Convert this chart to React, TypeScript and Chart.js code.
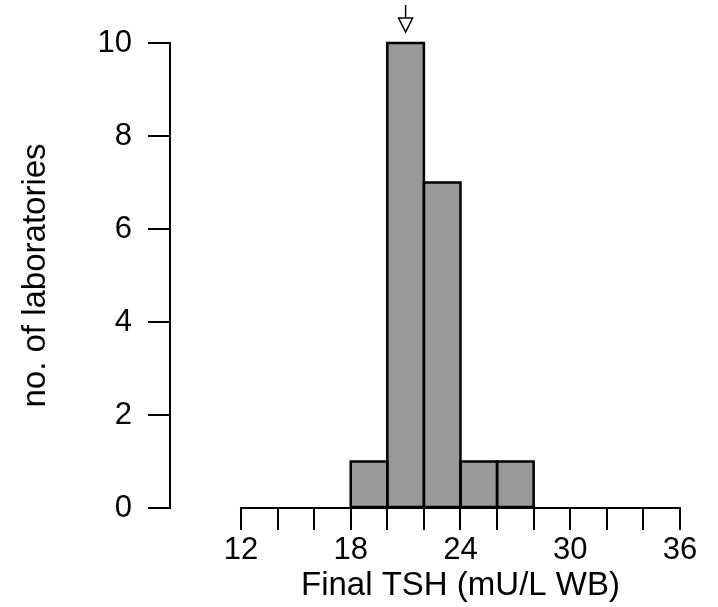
import React, { useEffect, useRef } from 'react';
import { Chart, registerables } from 'chart.js';

Chart.register(...registerables);

// ---- data ----
const binStarts = [18, 20, 22, 24, 26];
const binWidth = 2;
const counts = [1, 10, 7, 1, 1];
const xTickValues = [12, 14, 16, 18, 20, 22, 24, 26, 28, 30, 32, 34, 36];
const xLabelValues = [12, 18, 24, 30, 36];
const yTickValues = [0, 2, 4, 6, 8, 10];
const arrowValue = 21;
const xTitle = 'Final TSH (mU/L WB)';
const yTitle = 'no. of laboratories';

const FAMILY = '"Liberation Sans", Arial, Helvetica, sans-serif';

const decorPlugin = {
  id: 'decor',
  afterDatasetsDraw(chart: any) {
    const ctx = chart.ctx as CanvasRenderingContext2D;
    const xs = chart.scales.x;
    const ys = chart.scales.y;
    const meta = chart.getDatasetMeta(0);
    ctx.save();
    ctx.strokeStyle = '#000';
    ctx.lineWidth = 2.5;
    meta.data.forEach((bar: any) => {
      const { x, y, base, width } = bar.getProps(['x', 'y', 'base', 'width'], true);
      ctx.strokeRect(x - width / 2, y, width, base - y);
    });
    // x axis line (spans only the tick range)
    const y0 = ys.getPixelForValue(0);
    const xStart = xs.getPixelForValue(xTickValues[0]);
    const xEnd = xs.getPixelForValue(xTickValues[xTickValues.length - 1]);
    ctx.lineWidth = 2;
    ctx.beginPath();
    ctx.moveTo(xStart - 1, y0);
    ctx.lineTo(xEnd + 1, y0);
    ctx.stroke();
    // arrow marking the target value
    const ax = xs.getPixelForValue(arrowValue);
    ctx.lineWidth = 1.5;
    ctx.beginPath();
    ctx.moveTo(ax, 5);
    ctx.lineTo(ax, 18);
    ctx.stroke();
    ctx.beginPath();
    ctx.moveTo(ax - 7, 18);
    ctx.lineTo(ax + 7, 18);
    ctx.lineTo(ax, 32);
    ctx.closePath();
    ctx.fillStyle = '#fff';
    ctx.fill();
    ctx.stroke();
    // x axis title, centred under the axis line
    ctx.fillStyle = '#000';
    ctx.font = `33px ${FAMILY}`;
    ctx.textAlign = 'center';
    ctx.textBaseline = 'middle';
    ctx.fillText(xTitle, (xStart + xEnd) / 2, chart.height - 21);
    ctx.restore();
  },
};

export default function App() {
  const canvasRef = useRef<HTMLCanvasElement | null>(null);

  useEffect(() => {
    if (!canvasRef.current) return;
    const chart = new Chart(canvasRef.current, {
      type: 'bar',
      data: {
        datasets: [
          {
            data: binStarts.map((s, i) => ({ x: s + binWidth / 2, y: counts[i] })),
            backgroundColor: '#999999',
            borderWidth: 0,
            barPercentage: 1,
            categoryPercentage: 1,
          },
        ],
      },
      options: {
        responsive: false,
        animation: false,
        devicePixelRatio: 1,
        layout: { padding: { left: 0, right: 38, top: 43, bottom: 0 } },
        plugins: {
          legend: { display: false },
          tooltip: { enabled: false },
        },
        scales: {
          x: {
            type: 'linear',
            position: 'bottom',
            min: 8.12,
            max: 36,
            offset: false,
            border: { display: false },
            grid: {
              display: true,
              drawOnChartArea: false,
              drawTicks: true,
              tickLength: 22,
              color: '#000',
              lineWidth: 2,
              offset: false,
            },
            afterBuildTicks: (scale: any) => {
              scale.ticks = xTickValues.map((v) => ({ value: v }));
            },
            afterFit: (scale: any) => {
              scale.height = 99;
            },
            ticks: {
              autoSkip: false,
              maxRotation: 0,
              padding: 2,
              color: '#000',
              font: { family: FAMILY, size: 31 },
              callback: (value: any) => (xLabelValues.includes(Number(value)) ? String(value) : ''),
            },
          },
          y: {
            type: 'linear',
            min: yTickValues[0],
            max: yTickValues[yTickValues.length - 1],
            border: { display: true, color: '#000', width: 2 },
            grid: {
              display: true,
              drawOnChartArea: false,
              drawTicks: true,
              tickLength: 22,
              color: '#000',
              lineWidth: 2,
            },
            afterBuildTicks: (scale: any) => {
              scale.ticks = yTickValues.map((v) => ({ value: v }));
            },
            afterFit: (scale: any) => {
              scale.width = 170;
            },
            ticks: {
              padding: 16,
              color: '#000',
              font: { family: FAMILY, size: 31 },
            },
            title: {
              display: true,
              text: yTitle,
              color: '#000',
              font: { family: FAMILY, size: 33 },
              padding: { top: 16, bottom: 0 },
            },
          },
        },
      },
      plugins: [decorPlugin],
    } as any);
    return () => chart.destroy();
  }, []);

  return (
    <div style={{ position: 'absolute', left: 0, top: 0, width: 718, height: 607, background: '#fff' }}>
      <canvas ref={canvasRef} width={718} height={607} style={{ display: 'block' }} />
    </div>
  );
}
